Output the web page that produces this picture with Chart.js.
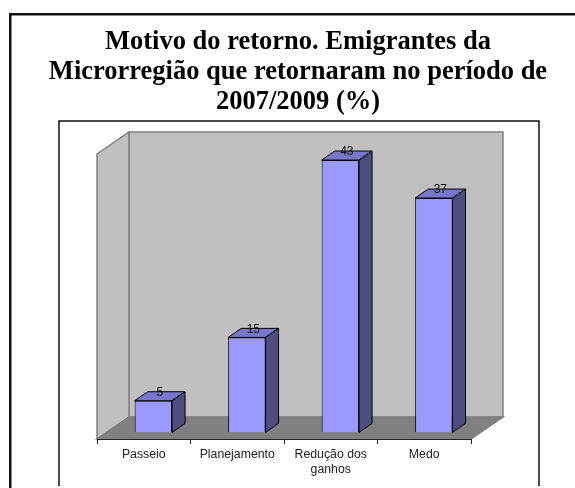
<!DOCTYPE html>
<html>
<head>
<meta charset="utf-8">
<title>Motivo do retorno</title>
<script src="https://cdn.jsdelivr.net/npm/chart.js@4"></script>
<style>
html, body { margin: 0; padding: 0; background: #fff; }
#wrap { width: 575px; height: 488px; }
</style>
</head>
<body>
<div id="wrap"><canvas id="chart" width="575" height="488"></canvas></div>
<script>
const titleLines = ['Motivo do retorno. Emigrantes da', 'Microrregião que retornaram no período de', '2007/2009 (%)'];
const categories = ['Passeio', 'Planejamento', ['Redução dos', 'ganhos'], 'Medo'];
const values = [5, 15, 43, 37];

// depth of the 3D box and of each bar, in pixels
const boxDepth = { x: 32, y: 22 };
const barDepth = { x: 13, y: 9 };

const scene3d = {
    id: 'scene3d',
    beforeDraw(chart) {
        const { ctx, chartArea: a } = chart;
        const d = boxDepth;
        ctx.save();
        // page frames, open at the bottom and on the right
        ctx.strokeStyle = '#111';
        ctx.lineWidth = 2.5;
        ctx.beginPath();
        ctx.moveTo(10.25, 488);
        ctx.lineTo(10.25, 14.25);
        ctx.lineTo(575, 14.25);
        ctx.stroke();
        ctx.lineWidth = 1.5;
        ctx.beginPath();
        ctx.moveTo(59, 486);
        ctx.lineTo(59, 121);
        ctx.lineTo(539, 121);
        ctx.lineTo(539, 486);
        ctx.stroke();
        // back wall
        ctx.strokeStyle = '#808080';
        ctx.lineWidth = 1.5;
        ctx.fillStyle = '#C0C0C0';
        ctx.fillRect(a.left + d.x, a.top - d.y, a.width, a.height);
        ctx.strokeRect(a.left + d.x, a.top - d.y, a.width, a.height);
        // left wall
        ctx.beginPath();
        ctx.moveTo(a.left, a.top);
        ctx.lineTo(a.left + d.x, a.top - d.y);
        ctx.lineTo(a.left + d.x, a.bottom - d.y);
        ctx.lineTo(a.left, a.bottom);
        ctx.closePath();
        ctx.fill();
        ctx.stroke();
        // floor
        ctx.fillStyle = '#808080';
        ctx.beginPath();
        ctx.moveTo(a.left, a.bottom);
        ctx.lineTo(a.left + d.x, a.bottom - d.y);
        ctx.lineTo(a.right + d.x, a.bottom - d.y);
        ctx.lineTo(a.right, a.bottom);
        ctx.closePath();
        ctx.fill();
        ctx.stroke();
        ctx.restore();
    },
    beforeDatasetsDraw(chart) {
        const { ctx } = chart;
        const d = barDepth;
        ctx.save();
        // bars stand in the middle of the floor
        ctx.translate(boxDepth.x * 0.3, -boxDepth.y * 0.3);
        ctx.strokeStyle = '#000';
        ctx.lineWidth = 1;
        chart.getDatasetMeta(0).data.forEach(bar => {
            const half = bar.width / 2;
            const l = bar.x - half, r = bar.x + half, t = bar.y, b = bar.base;
            ctx.fillStyle = '#7777CC';
            ctx.beginPath();
            ctx.moveTo(l, t);
            ctx.lineTo(l + d.x, t - d.y);
            ctx.lineTo(r + d.x, t - d.y);
            ctx.lineTo(r, t);
            ctx.closePath();
            ctx.fill();
            ctx.stroke();
            ctx.fillStyle = '#4D4D80';
            ctx.beginPath();
            ctx.moveTo(r, t);
            ctx.lineTo(r + d.x, t - d.y);
            ctx.lineTo(r + d.x, b - d.y);
            ctx.lineTo(r, b);
            ctx.closePath();
            ctx.fill();
            ctx.stroke();
        });
        // the bars themselves are drawn by the library inside this shift
    },
    afterDatasetsDraw(chart) {
        const { ctx } = chart;
        ctx.fillStyle = '#111';
        ctx.font = '12px "Liberation Sans"';
        ctx.textAlign = 'center';
        ctx.textBaseline = 'middle';
        chart.getDatasetMeta(0).data.forEach((bar, i) => {
            ctx.fillText(values[i], bar.x + barDepth.x / 2, bar.y - barDepth.y + 1);
        });
        ctx.restore();
    }
};

new Chart(document.getElementById('chart'), {
    type: 'bar',
    data: {
        labels: categories,
        datasets: [{
            data: values,
            backgroundColor: '#9999FF',
            borderColor: '#000',
            borderWidth: 1,
            categoryPercentage: 1,
            barPercentage: 0.4
        }]
    },
    plugins: [scene3d],
    options: {
        responsive: false,
        animation: false,
        // the title centres between these paddings, the side axes make up the rest
        layout: { padding: { left: 21, right: 0, top: 0, bottom: 0 } },
        plugins: {
            legend: { display: false },
            tooltip: { enabled: false },
            title: {
                display: true,
                text: titleLines,
                color: '#000',
                font: { family: '"Liberation Serif"', size: 26.5, weight: 'bold', lineHeight: 1.132 },
                padding: { top: 27, bottom: 37 }
            }
        },
        scales: {
            x: {
                afterFit(scale) { scale.height = 49; },
                border: { color: '#222' },
                grid: { drawOnChartArea: false, drawTicks: true, tickLength: 5, color: '#222', offset: true },
                ticks: {
                    color: '#222',
                    font: { family: '"Liberation Sans"', size: 12.3, lineHeight: 1.22 },
                    maxRotation: 0,
                    autoSkip: false,
                    padding: 3
                }
            },
            y: {
                min: 0,
                max: 45,
                afterFit(scale) { scale.width = 76; },
                border: { display: false },
                grid: { display: false },
                ticks: { display: false }
            },
            y2: {
                position: 'right',
                afterFit(scale) { scale.width = 104; },
                border: { display: false },
                grid: { display: false },
                ticks: { display: false }
            }
        }
    }
});
</script>
</body>
</html>
